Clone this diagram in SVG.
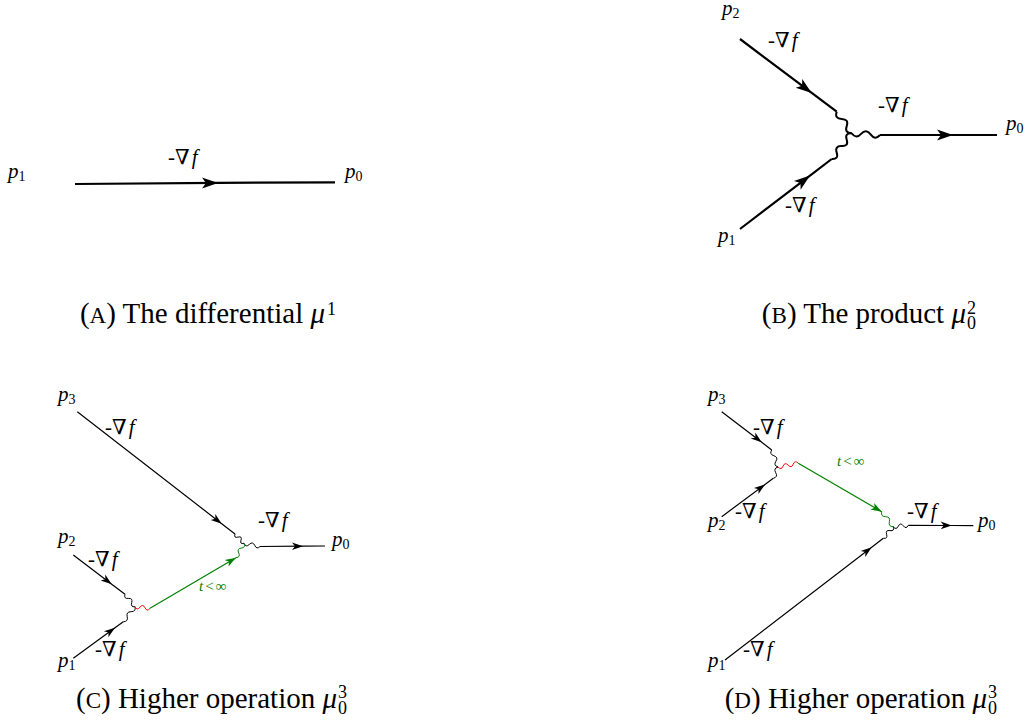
<svg xmlns="http://www.w3.org/2000/svg" width="1029" height="725" viewBox="0 0 1029 725">
<style>
text{font-family:"Liberation Serif","DejaVu Serif",serif;fill:#000}
.lab{font-size:21px}
.it{font-style:italic}
.sub{font-size:14px}
.cap{font-size:29px}
.ss{font-size:18px}
.tl{font-size:15px;fill:#008000}
.thick{fill:none;stroke:#000;stroke-width:2.2}
.thin{fill:none;stroke:#000;stroke-width:1.2}
.wthick{fill:none;stroke:#000;stroke-width:2}
.wthin{fill:none;stroke:#000;stroke-width:1}
.green{fill:none;stroke:#008000;stroke-width:1.2}
.wgreen{fill:none;stroke:#008000;stroke-width:1}
.wred{fill:none;stroke:#ff0000;stroke-width:1}
</style>
<defs>
<marker id="aL" markerUnits="userSpaceOnUse" orient="auto" overflow="visible" markerWidth="1" markerHeight="1">
<path d="M0,0 L-16,-5.5 L-12,0 L-16,5.5 Z" fill="#000"/>
</marker>
<marker id="aS" markerUnits="userSpaceOnUse" orient="auto" overflow="visible" markerWidth="1" markerHeight="1">
<path d="M0,0 L-11,-3.8 L-8,0 L-11,3.8 Z" fill="#000"/>
</marker>
<marker id="aG" markerUnits="userSpaceOnUse" orient="auto" overflow="visible" markerWidth="1" markerHeight="1">
<path d="M0,0 L-11,-3.8 L-8,0 L-11,3.8 Z" fill="#008000"/>
</marker>
</defs>

<!-- Panel A -->
<g id="panel-a">
<g id="a-connectors">
<path class="thick" d="M75,184 L218,182.9 L335,182.3" marker-mid="url(#aL)"/>
<text class="lab" x="168" y="164">-∇<tspan class="it" dx="2">f</tspan></text>
</g>
<g id="a-p1"><text class="lab" x="8" y="178"><tspan class="it">p</tspan><tspan class="sub" dy="3">1</tspan></text></g>
<g id="a-p0"><text class="lab" x="345" y="178"><tspan class="it">p</tspan><tspan class="sub" dy="3">0</tspan></text></g>
<g id="a-caption">
<text class="cap" x="325" y="323" text-anchor="end">(<tspan font-size="23">A</tspan>) The differential <tspan class="it">μ</tspan></text>
<text class="ss" x="327" y="315">1</text>
</g>
</g>

<!-- Panel B -->
<g id="panel-b">
<g id="b-connectors">
<path class="thick" d="M740,39 L811.7,92.9 L836.7,111.7" marker-mid="url(#aL)"/>
<path class="thick" d="M740,229 L810,175.6 L831.7,159" marker-mid="url(#aL)"/>
<path class="thick" d="M880,135 L953,135 L997,135" marker-mid="url(#aL)"/>
<path class="wthick" d="M836.7,111.7 Q834.3,118.7 841.7,118.9 T846.7,126.1 T851.7,133.3"/>
<path class="wthick" d="M831.7,159 Q838.9,159.5 836.7,152.6 T841.7,146.1 T846.7,139.7 T851.7,133.3"/>
<path class="wthick" d="M851.7,133.3 Q856,139.6 861.1,133.9 T870.6,134.4 T880,135"/>
<text class="lab" x="768" y="47">-∇<tspan class="it" dx="2">f</tspan></text>
<text class="lab" x="878" y="112">-∇<tspan class="it" dx="2">f</tspan></text>
<text class="lab" x="785" y="212">-∇<tspan class="it" dx="2">f</tspan></text>
</g>
<g id="b-p2"><text class="lab" x="722" y="15"><tspan class="it">p</tspan><tspan class="sub" dy="3">2</tspan></text></g>
<g id="b-p1"><text class="lab" x="718" y="242"><tspan class="it">p</tspan><tspan class="sub" dy="3">1</tspan></text></g>
<g id="b-p0"><text class="lab" x="1006" y="130"><tspan class="it">p</tspan><tspan class="sub" dy="3">0</tspan></text></g>
<g id="b-caption">
<text class="cap" x="966" y="323" text-anchor="end">(<tspan font-size="23">B</tspan>) The product <tspan class="it">μ</tspan></text>
<text class="ss" x="967" y="314">2</text>
<text class="ss" x="967" y="329">0</text>
</g>
</g>

<!-- Panel C -->
<g id="panel-c">
<g id="c-connectors">
<path class="thin" d="M77.3,411.7 L221.7,523.7 L235,534" marker-mid="url(#aS)"/>
<path class="thin" d="M73.3,555 L111.7,584.2 L125,594.3" marker-mid="url(#aS)"/>
<path class="thin" d="M73.3,658.3 L115,627.8 L123.3,621.7" marker-mid="url(#aS)"/>
<path class="thin" d="M260,546.5 L303,546.2 L325,546" marker-mid="url(#aS)"/>
<path class="wthin" d="M235,534 Q233.6,538.3 238,537.1 T241,540.2 T244,543.3"/>
<path class="wthin" d="M244,543.3 Q245.9,547.8 249.3,544.4 T254.7,545.4 T260,546.5"/>
<path class="wthin" d="M125,594.3 Q123.6,598.9 128.3,598.4 T131.7,602.6 T135,606.7"/>
<path class="wthin" d="M123.3,621.7 Q128.4,621.7 127.2,616.7 T131.1,611.7 T135,606.7"/>
<path class="wred" d="M135,606.7 Q137.1,610.9 140,607.2 T145,607.8 T150,608.3"/>
<path class="green" d="M150,608.3 L236,557.7" marker-end="url(#aG)"/>
<path class="wgreen" d="M236,557.7 Q240.8,557.2 238.7,552.9 T241.3,548.1 T244,543.3"/>
<text class="lab" x="105" y="434">-∇<tspan class="it" dx="2">f</tspan></text>
<text class="lab" x="258" y="527">-∇<tspan class="it" dx="2">f</tspan></text>
<text class="lab" x="88" y="566">-∇<tspan class="it" dx="2">f</tspan></text>
<text class="lab" x="95" y="656">-∇<tspan class="it" dx="2">f</tspan></text>
<text class="tl" x="199" y="591"><tspan class="it">t</tspan><tspan dx="2">&lt;</tspan><tspan dx="2">∞</tspan></text>
</g>
<g id="c-p3"><text class="lab" x="58" y="401"><tspan class="it">p</tspan><tspan class="sub" dy="3">3</tspan></text></g>
<g id="c-p2"><text class="lab" x="58" y="543"><tspan class="it">p</tspan><tspan class="sub" dy="3">2</tspan></text></g>
<g id="c-p1"><text class="lab" x="58" y="667"><tspan class="it">p</tspan><tspan class="sub" dy="3">1</tspan></text></g>
<g id="c-p0"><text class="lab" x="332" y="546"><tspan class="it">p</tspan><tspan class="sub" dy="3">0</tspan></text></g>
<g id="c-caption">
<text class="cap" x="337" y="708" text-anchor="end">(<tspan font-size="23">C</tspan>) Higher operation <tspan class="it">μ</tspan></text>
<text class="ss" x="338" y="698">3</text>
<text class="ss" x="338" y="714">0</text>
</g>
</g>

<!-- Panel D -->
<g id="panel-d">
<g id="d-connectors">
<path class="thin" d="M721.7,411.7 L761.7,442.3 L771.7,450" marker-mid="url(#aS)"/>
<path class="thin" d="M721.7,516.7 L765,484.5 L773.3,478.3" marker-mid="url(#aS)"/>
<path class="thin" d="M725,660 L871.7,547.2 L883.3,538.3" marker-mid="url(#aS)"/>
<path class="thin" d="M908.3,525.3 L951.7,525.5 L973.3,525.7" marker-mid="url(#aS)"/>
<path class="wthin" d="M771.7,450 Q769,454.2 773.8,455.7 T775.9,461.3 T778,467"/>
<path class="wthin" d="M773.3,478.3 Q778.2,477 775.7,472.7 T778,467"/>
<path class="wthin" d="M883.3,538.3 Q888,539 886.6,534.4 T890,530.6 T893.3,526.7"/>
<path class="wthin" d="M893.3,526.7 Q896.2,530.4 898.3,526.2 T903.3,525.8 T908.3,525.3"/>
<path class="wred" d="M778,467 Q781.3,470.5 783.1,466.1 T788.2,465.2 T793.2,464.2 T798.3,463.3"/>
<path class="green" d="M798.3,463.3 L881.7,511.7" marker-end="url(#aG)"/>
<path class="wgreen" d="M881.7,511.7 Q880.5,516.6 885.6,516.7 T889.4,521.7 T893.3,526.7"/>
<text class="lab" x="753" y="434">-∇<tspan class="it" dx="2">f</tspan></text>
<text class="lab" x="735" y="518">-∇<tspan class="it" dx="2">f</tspan></text>
<text class="lab" x="907" y="518">-∇<tspan class="it" dx="2">f</tspan></text>
<text class="lab" x="743" y="656">-∇<tspan class="it" dx="2">f</tspan></text>
<text class="tl" x="837" y="466"><tspan class="it">t</tspan><tspan dx="2">&lt;</tspan><tspan dx="2">∞</tspan></text>
</g>
<g id="d-p3"><text class="lab" x="708" y="401"><tspan class="it">p</tspan><tspan class="sub" dy="3">3</tspan></text></g>
<g id="d-p2"><text class="lab" x="708" y="527"><tspan class="it">p</tspan><tspan class="sub" dy="3">2</tspan></text></g>
<g id="d-p1"><text class="lab" x="708" y="667"><tspan class="it">p</tspan><tspan class="sub" dy="3">1</tspan></text></g>
<g id="d-p0"><text class="lab" x="978" y="527"><tspan class="it">p</tspan><tspan class="sub" dy="3">0</tspan></text></g>
<g id="d-caption">
<text class="cap" x="987" y="708" text-anchor="end">(<tspan font-size="23">D</tspan>) Higher operation <tspan class="it">μ</tspan></text>
<text class="ss" x="988" y="698">3</text>
<text class="ss" x="988" y="714">0</text>
</g>
</g>
</svg>
